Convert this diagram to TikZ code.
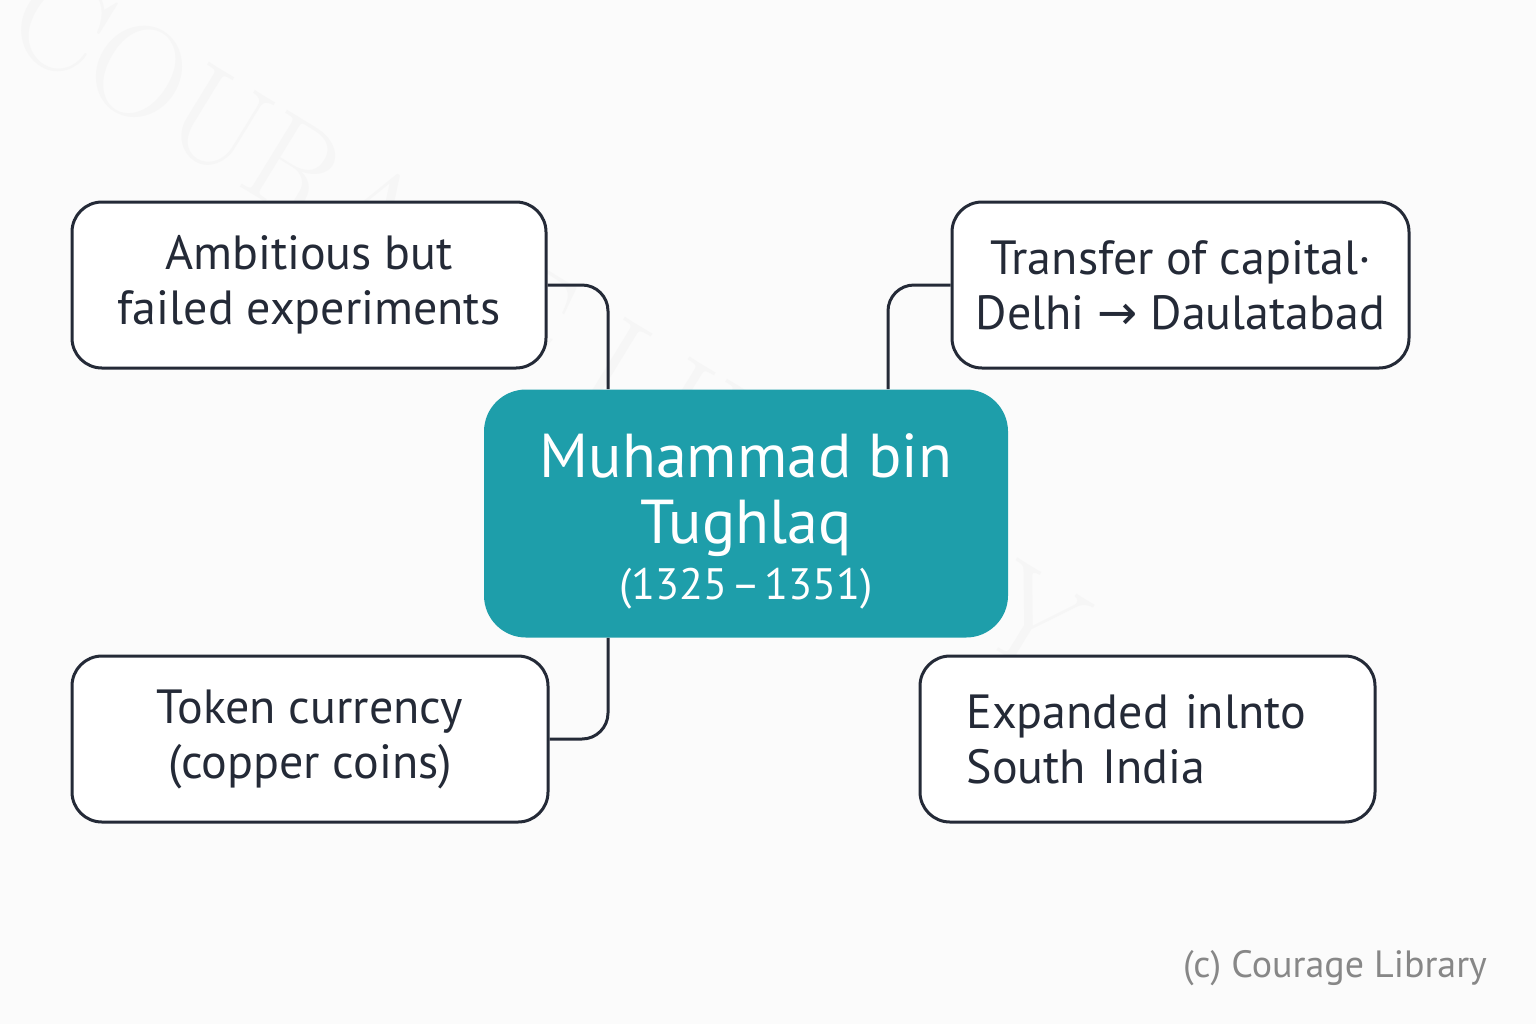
\documentclass[tikz,border=0pt]{standalone}
\usepackage{fontspec}
\setmainfont{PT Sans}
\newfontfamily\arrowfont{DejaVu Sans}
\newfontfamily\markfont{Latin Modern Roman}
\usepackage{xcolor}
\usepackage{tikz}
\usetikzlibrary{positioning}

\definecolor{inkline}{RGB}{36,42,55}
\definecolor{hubteal}{RGB}{30,158,170}
\definecolor{paper}{RGB}{251,251,251}

\begin{document}
\begin{tikzpicture}[x=0.5pt,y=-0.5pt,
  leaf/.style={draw=inkline, line width=1.5pt, fill=white, rounded corners=15pt,
    minimum height=83pt, inner sep=0pt, text=inkline, align=center,
    font=\fontsize{24}{27.5}\selectfont},
  hub/.style={fill=hubteal, rounded corners=21pt, minimum width=262pt,
    minimum height=124pt, inner sep=0pt, text=white, align=center,
    font=\fontsize{31}{33}\selectfont},
  link/.style={draw=inkline, line width=1.5pt, rounded corners=13pt}]

%background
\fill[paper] (0,0) rectangle (1536,1024);
\useasboundingbox (0,0) rectangle (1536,1024);

%watermark
\node (mark) [rotate=-31.5, text=black!3.5, font=\markfont\fontsize{66}{66}\selectfont]
  at (548,322) {COURAGE LIBRARY};

% Hub Node
\node (hub) [hub] at (746,513.5) {}; 
\node (hubtext) [text=white, align=center, font=\fontsize{31}{33}\selectfont]
  at ([yshift=-4pt]hub.center) {Muhammad bin\\Tughlaq\\[-5pt]
  {\fontsize{22}{24}\selectfont (1325\kern2pt–\kern2pt1351)}};

% Leaf Nodes
\node (amb) [leaf, minimum width=237pt] at (309,285) {Ambitious but\\failed experiments};
\node (tok) [leaf, minimum width=238pt] at (310,739) {Token currency\\(copper coins)};
\node (cap) [leaf, minimum width=228.5pt] at (1180.5,285)
  {Transfer of capital·\\Delhi {\arrowfont→} Daulatabad};
\node (exp) [leaf, minimum width=227.5pt, text width=181pt, align=left] at (1147.5,739)
  {Expanded inlnto\\South India};

%links
\draw[link] (amb.east) -| ([xshift=-69pt]hub.north);
\draw[link] ([xshift=71pt]hub.north) |- (cap.west);
\draw[link] ([xshift=-69pt]hub.south) |- (tok.east);

% Text Node
\node (copy) [anchor=east, text=black!47, font=\fontsize{19}{21}\selectfont] at (1494,968)
  {(c) Courage Library};

\end{tikzpicture}
\end{document}
